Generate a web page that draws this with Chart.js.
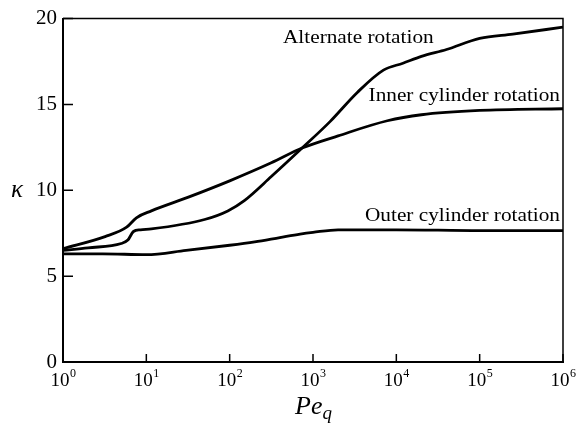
<!DOCTYPE html>
<html>
<head>
<meta charset="utf-8">
<script src="https://cdn.jsdelivr.net/npm/chart.js@4/dist/chart.umd.min.js"></script>
<style>
html,body{margin:0;padding:0;background:#fff;}
#wrap{width:577px;height:431px;position:relative;}
</style>
</head>
<body>
<div id="wrap"><canvas id="c" width="577" height="431"></canvas></div>
<script>
// ---- data ----
const altPe  = [1, 2, 5, 6, 7, 8.5, 11.5, 50, 95, 150, 316, 740, 1600, 3400, 7000, 12000, 20000, 40000, 100000, 250000, 1000000];
const altK   = [6.5, 6.65, 6.9, 7.1, 7.6, 7.7, 7.75, 8.3, 8.8, 9.4, 10.8, 12.46, 14.0, 15.7, 17.0, 17.4, 17.8, 18.2, 18.85, 19.1, 19.5];

const innerPe = [1, 3.2, 5.8, 7.6, 11.5, 32, 100, 316, 740, 2000, 7800, 20000, 100000, 1000000];
const innerK  = [6.6, 7.3, 7.85, 8.4, 8.8, 9.6, 10.55, 11.6, 12.46, 13.17, 14.05, 14.4, 14.65, 14.75];

const outerPe = [1, 3, 10, 30, 100, 200, 400, 700, 1000, 2000, 10000, 100000, 1000000];
const outerK  = [6.3, 6.3, 6.25, 6.5, 6.8, 7.0, 7.25, 7.45, 7.55, 7.7, 7.7, 7.65, 7.65];

const xTickValues = [1, 10, 100, 1000, 10000, 100000, 1000000];
const xTickExp    = ['0', '1', '2', '3', '4', '5', '6'];
const yTickValues = [0, 5, 10, 15, 20];

const curveLabels = [
  {text: 'Alternate rotation', align: 'left', x: 283, y: 43},
  {text: 'Inner cylinder rotation', align: 'right', x: 560, y: 101},
  {text: 'Outer cylinder rotation', align: 'right', x: 560, y: 221}
];

const SERIF = '"Liberation Serif", "DejaVu Serif", serif';

function pts(xs, ys){ return xs.map((x,i)=>({x:x, y:ys[i]})); }

const decor = {
  id: 'decor',
  afterDraw(chart){
    const ctx = chart.ctx;
    const a = chart.chartArea;
    const xs = chart.scales.x, ys = chart.scales.y;
    ctx.save();
    ctx.strokeStyle = '#000';
    ctx.lineWidth = 1.5;
    ctx.beginPath();
    ctx.moveTo(a.left, a.top); ctx.lineTo(a.right, a.top); ctx.lineTo(a.right, a.bottom);
    ctx.stroke();
    ctx.beginPath();
    ys.ticks.forEach(t=>{
      const p = ys.getPixelForValue(t.value);
      ctx.moveTo(a.left, p); ctx.lineTo(a.left + 10, p);
    });
    xs.ticks.forEach(t=>{
      const p = xs.getPixelForValue(t.value);
      ctx.moveTo(p, a.bottom); ctx.lineTo(p, a.bottom - 8);
    });
    ctx.stroke();
    ctx.fillStyle = '#000';
    ctx.textBaseline = 'alphabetic';
    ctx.textAlign = 'left';
    xs.ticks.forEach(t=>{
      const p = xs.getPixelForValue(t.value);
      ctx.font = '19px ' + SERIF;
      const w1 = ctx.measureText('10').width;
      ctx.font = '12px ' + SERIF;
      const e = xTickExp[xTickValues.indexOf(t.value)] || '';
      const w2 = ctx.measureText(e).width;
      const x0 = p - (w1 + w2) / 2;
      ctx.font = '19px ' + SERIF;
      ctx.fillText('10', x0, 386);
      ctx.font = '12px ' + SERIF;
      ctx.fillText(e, x0 + w1 + 0.5, 377);
    });
    ctx.font = '19px ' + SERIF;
    curveLabels.forEach(l=>{
      ctx.save();
      ctx.translate(l.x, l.y);
      ctx.scale(1.12, 1);
      ctx.textAlign = l.align;
      ctx.fillText(l.text, 0, 0);
      ctx.restore();
    });
    ctx.textAlign = 'center';
    ctx.font = 'italic 25px ' + SERIF;
    ctx.fillText('\u03BA', 17, 197);
    ctx.textAlign = 'left';
    ctx.font = 'italic 26px ' + SERIF;
    ctx.fillText('Pe', 295, 414);
    const wpe = ctx.measureText('Pe').width;
    ctx.font = 'italic 19px ' + SERIF;
    ctx.fillText('q', 295 + wpe, 419);
    ctx.restore();
  }
};

const lineStyle = {borderColor:'#000', borderWidth:2.8, pointRadius:0, fill:false,
                   tension:0.4, cubicInterpolationMode:'monotone'};

new Chart(document.getElementById('c'), {
  type: 'line',
  data: {
    datasets: [
      Object.assign({label:'Alternate rotation', data: pts(altPe, altK)}, lineStyle),
      Object.assign({label:'Inner cylinder rotation', data: pts(innerPe, innerK)}, lineStyle),
      Object.assign({label:'Outer cylinder rotation', data: pts(outerPe, outerK)}, lineStyle)
    ]
  },
  options: {
    responsive: false,
    animation: false,
    layout: {padding: {top: 17, right: 14, left: 0, bottom: 0}},
    plugins: {legend: {display:false}, tooltip: {enabled:false}},
    scales: {
      x: {
        type: 'logarithmic', min: 1, max: 1000000,
        afterBuildTicks: s => { s.ticks = xTickValues.map(v=>({value:v})); },
        afterFit: s => { s.height = 69; },
        grid: {display:false, drawTicks:false},
        border: {display:true, color:'#000', width:2},
        ticks: {display:false}
      },
      y: {
        type: 'linear', min: 0, max: 20,
        afterBuildTicks: s => { s.ticks = yTickValues.map(v=>({value:v})); },
        afterFit: s => { s.width = 63; },
        grid: {display:false, drawTicks:false},
        border: {display:true, color:'#000', width:2},
        ticks: {color:'#000', padding:6, font:{family: SERIF, size:21}}
      }
    }
  },
  plugins: [decor]
});
</script>
</body>
</html>
